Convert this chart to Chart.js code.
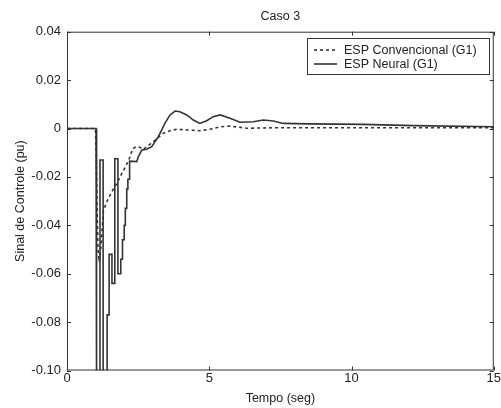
<!DOCTYPE html>
<html>
<head>
<meta charset="utf-8">
<script src="https://cdn.jsdelivr.net/npm/chart.js@4.4.0/dist/chart.umd.min.js"></script>
<style>
  html, body { margin: 0; padding: 0; background: #fff; }
</style>
</head>
<body>
<canvas id="chart" width="501" height="408"></canvas>
<script>
// Caso 3 - sinal de controle dos dois ESP (G1)
var neuralTime = [0, 1.02, 1.02, 1.05, 1.05, 1.16, 1.16, 1.27, 1.27, 1.41, 1.41, 1.48, 1.48, 1.58, 1.58, 1.68, 1.68, 1.79, 1.79, 1.89,
  1.89, 1.95, 1.95, 2.01, 2.01, 2.05, 2.05, 2.10, 2.10, 2.14, 2.14, 2.18, 2.18, 2.21, 2.21,
  2.45, 2.51, 2.63, 2.80, 2.98, 3.09, 3.21, 3.33, 3.44, 3.62, 3.80, 3.97, 4.21, 4.44, 4.67, 4.91, 5.14, 5.38,
  5.73, 6.08, 6.55, 6.90, 7.25, 7.60, 8.50, 10.4, 12.2, 15];
var neuralValue = [0, 0, -0.003, -0.003, -0.115, -0.115, -0.013, -0.013, -0.115, -0.115, -0.077, -0.077, -0.052, -0.052, -0.064, -0.064, -0.0125, -0.0125, -0.060, -0.060,
  -0.054, -0.054, -0.046, -0.046, -0.040, -0.040, -0.033, -0.033, -0.025, -0.025, -0.021, -0.021, -0.016, -0.016, -0.0135,
  -0.0137, -0.0116, -0.0089, -0.0086, -0.0075, -0.0055, -0.0034, -0.0006, 0.0021, 0.0056, 0.0072, 0.0069, 0.0056, 0.0035, 0.0021, 0.0032, 0.0049, 0.0056,
  0.0042, 0.0026, 0.0028, 0.0035, 0.0031, 0.0021, 0.0019, 0.0017, 0.0012, 0.0007];

var convTime = [0, 1.00, 1.03, 1.06, 1.09, 1.13, 1.20, 1.28, 1.41, 1.58, 1.76, 1.93, 2.05, 2.19, 2.31, 2.44, 2.57, 2.68,
  3.02, 3.38, 3.62, 3.86, 4.21, 4.67, 5.03, 5.38, 5.73, 6.32, 7.25, 15];
var convValue = [0, 0, -0.012, -0.035, -0.050, -0.055, -0.048, -0.034, -0.030, -0.026, -0.0226, -0.0185, -0.016, -0.0124, -0.0084, -0.0074, -0.0078, -0.0086,
  -0.0056, -0.0020, -0.0009, -0.0003, -0.0006, -0.0009, -0.0003, 0.0007, 0.0010, 0.0001, 0.0003, 0.0003];

var seriesLabels = ['ESP Convencional (G1)', 'ESP Neural (G1)'];
var xTicks = [0, 5, 10, 15];
var yTicks = [-0.1, -0.08, -0.06, -0.04, -0.02, 0, 0.02, 0.04];

function toPoints(t, v) {
  var pts = [];
  for (var i = 0; i < t.length; i++) pts.push({ x: t[i], y: v[i] });
  return pts;
}

Chart.defaults.font.family = '"Liberation Sans", Arial, sans-serif';
Chart.defaults.font.size = 12.5;
Chart.defaults.color = '#222';

// moldura e marcas internas, estilo matlab
var boxPlugin = {
  id: 'boxPlugin',
  afterDatasetsDraw: function(chart) {
    var ctx = chart.ctx, a = chart.chartArea;
    var xs = chart.scales.x, ys = chart.scales.y;
    ctx.save();
    ctx.strokeStyle = '#333';
    ctx.lineWidth = 1;
    ctx.strokeRect(a.left + 0.5, a.top + 0.5, a.right - a.left - 1, a.bottom - a.top - 1);
    ctx.beginPath();
    xTicks.forEach(function(v) {
      var px = Math.round(xs.getPixelForValue(v)) + 0.5;
      ctx.moveTo(px, a.bottom); ctx.lineTo(px, a.bottom - 4);
      ctx.moveTo(px, a.top); ctx.lineTo(px, a.top + 4);
    });
    yTicks.forEach(function(v) {
      var py = Math.round(ys.getPixelForValue(v)) + 0.5;
      ctx.moveTo(a.left, py); ctx.lineTo(a.left + 4, py);
      ctx.moveTo(a.right, py); ctx.lineTo(a.right - 4, py);
    });
    ctx.stroke();
    ctx.restore();
  },
  afterDraw: function(chart) {
    var ctx = chart.ctx, a = chart.chartArea;
    var bx = 307, by = 38, bw = 182, bh = 36;
    ctx.save();
    ctx.fillStyle = '#fff';
    ctx.fillRect(bx, by, bw, bh);
    ctx.strokeStyle = '#333';
    ctx.lineWidth = 1;
    ctx.strokeRect(bx + 0.5, by + 0.5, bw, bh);
    chart.data.datasets.forEach(function(ds, i) {
      var ly = by + 12 + i * 14;
      ctx.beginPath();
      ctx.strokeStyle = ds.borderColor;
      ctx.lineWidth = ds.borderWidth;
      ctx.setLineDash(ds.borderDash || []);
      ctx.moveTo(bx + 7, ly);
      ctx.lineTo(bx + 30, ly);
      ctx.stroke();
      ctx.setLineDash([]);
      ctx.fillStyle = '#222';
      ctx.font = '12.5px "Liberation Sans", Arial, sans-serif';
      ctx.textBaseline = 'middle';
      ctx.fillText(ds.label, bx + 37, ly + 0.5);
    });
    ctx.restore();
  }
};

var chart = new Chart(document.getElementById('chart'), {
  type: 'line',
  data: {
    datasets: [
      {
        label: seriesLabels[0],
        data: toPoints(convTime, convValue),
        borderColor: '#333',
        borderWidth: 1.6,
        borderDash: [3, 3],
        pointRadius: 0,
        tension: 0
      },
      {
        label: seriesLabels[1],
        data: toPoints(neuralTime, neuralValue),
        borderColor: '#333',
        borderWidth: 1.6,
        pointRadius: 0,
        tension: 0
      }
    ]
  },
  options: {
    responsive: false,
    devicePixelRatio: 1,
    animation: false,
    layout: { padding: { left: 0, right: 7, top: 0, bottom: 0 } },
    plugins: {
      legend: { display: false },
      tooltip: { enabled: false }
    },
    scales: {
      x: {
        type: 'linear',
        position: 'bottom',
        min: 0, max: 15,
        afterBuildTicks: function(s) { s.ticks = xTicks.map(function(v) { return { value: v }; }); },
        ticks: { padding: 0, font: { size: 13 }, maxRotation: 0 },
        grid: { display: false, drawTicks: false },
        border: { display: false },
        title: { display: true, text: 'Tempo (seg)', padding: { top: 0, bottom: 2 } },
        afterFit: function(s) { s.height = 37.5; }
      },
      xTop: {
        type: 'linear',
        position: 'top',
        min: 0, max: 15,
        ticks: { display: false },
        grid: { display: false, drawTicks: false },
        border: { display: false },
        title: { display: true, text: 'Caso 3', padding: { top: 9, bottom: 0 } },
        afterFit: function(s) { s.height = 31.7; }
      },
      y: {
        type: 'linear',
        position: 'left',
        min: -0.1, max: 0.04,
        afterBuildTicks: function(s) { s.ticks = yTicks.map(function(v) { return { value: v }; }); },
        ticks: { padding: 6, font: { size: 13 } },
        grid: { display: false, drawTicks: false },
        border: { display: false },
        title: { display: true, text: 'Sinal de Controle (pu)', padding: { top: 13, bottom: 0 } },
        afterFit: function(s) { s.width = 67; }
      }
    }
  },
  plugins: [boxPlugin]
});
</script>
</body>
</html>
